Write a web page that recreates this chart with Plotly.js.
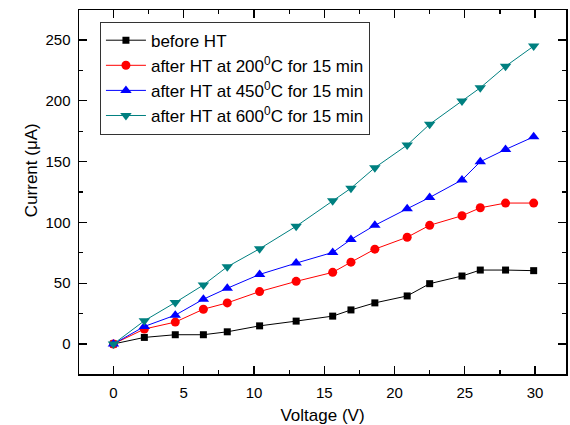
<!DOCTYPE html>
<html>
<head>
<meta charset="utf-8">
<script src="https://cdn.plot.ly/plotly-3.0.1.min.js"></script>
<style>html,body{margin:0;padding:0;background:#fff;}#chart{width:570px;height:425px;}</style>
</head>
<body>
<div id="chart"></div>
<script>
var voltage = [0, 2.2, 4.4, 6.4, 8.1, 10.4, 13.0, 15.6, 16.9, 18.6, 20.9, 22.5, 24.8, 26.1, 27.9, 29.9];
var beforeHT = [0, 5.4, 7.6, 7.6, 10, 14.9, 18.8, 22.9, 28, 33.8, 39.5, 49.6, 55.9, 60.8, 60.8, 60.3];
var ht200 = [0, 12.3, 18, 28.6, 33.8, 43.1, 51.5, 58.9, 67.3, 78, 87.8, 97.6, 105.5, 112, 115.9, 115.9];
var ht450 = [0, 14.4, 23.7, 36.8, 45.8, 57.2, 66.5, 75.3, 85.9, 97.6, 111.2, 120.5, 134.9, 149.9, 160, 170.4];
var ht600 = [0, 19.1, 34.1, 48.5, 63.5, 78.3, 96.8, 117.8, 128.1, 145, 163.6, 180.7, 199.8, 210.7, 228.4, 245];
var seriesNames = ['before HT', 'after HT at 200<sup>0</sup>C for 15 min', 'after HT at 450<sup>0</sup>C for 15 min', 'after HT at 600<sup>0</sup>C for 15 min'];
var xTitle = 'Voltage (V)';
var yTitle = 'Current (\u03bcA)';

function tr(y, name, color, symbol, size) {
  return {
    x: voltage, y: y, name: name, type: 'scatter', mode: 'lines+markers',
    line: {color: color, width: 1},
    marker: {color: color, symbol: symbol, size: size, line: {width: 0}}
  };
}
var data = [
  tr(beforeHT, seriesNames[0], '#000000', 'square', 7),
  tr(ht200, seriesNames[1], '#ff0000', 'circle', 9),
  tr(ht450, seriesNames[2], '#0000ff', 'triangle-up', 10),
  tr(ht600, seriesNames[3], '#008080', 'triangle-down', 10)
];
var font = {family: '"Liberation Sans", Arial, sans-serif', color: '#000'};
var axisCommon = {
  showline: true, linecolor: '#000', linewidth: 1.5, mirror: 'ticks',
  ticks: 'inside', ticklen: 8, tickwidth: 1.2, tickcolor: '#000',
  showgrid: false, zeroline: false, ticklabelstandoff: 4,
  tickfont: {family: font.family, size: 15, color: '#000'}
};
var layout = {
  width: 570, height: 425,
  margin: {l: 79, r: 4, t: 10, b: 51},
  paper_bgcolor: '#fff', plot_bgcolor: '#fff',
  font: font,
  showlegend: true,
  legend: {
    x: 0.043, y: 0.968, xanchor: 'left', yanchor: 'top',
    bgcolor: '#fff', bordercolor: '#333', borderwidth: 1,
    font: {family: font.family, size: 17, color: '#000'},
    tracegroupgap: 0, itemwidth: 40
  },
  xaxis: Object.assign({}, axisCommon, {
    range: [-2.45, 32.2], tick0: 0, dtick: 5,
    minor: {ticks: 'inside', ticklen: 4, tickwidth: 1.2, tickcolor: '#000', dtick: 2.5, showgrid: false},
    title: {text: xTitle, font: {family: font.family, size: 17, color: '#000'}, standoff: 10}
  }),
  yaxis: Object.assign({}, axisCommon, {
    range: [-24.7, 274.7], tick0: 0, dtick: 50,
    minor: {ticks: 'inside', ticklen: 4, tickwidth: 1.2, tickcolor: '#000', dtick: 25, showgrid: false}
  }),
  annotations: [{
    text: yTitle, textangle: -90, xref: 'paper', yref: 'paper',
    x: -0.0986, y: 0.56, xanchor: 'center', yanchor: 'middle', showarrow: false,
    font: {family: font.family, size: 17, color: '#000'}
  }]
};
Plotly.newPlot('chart', data, layout, {displayModeBar: false, staticPlot: true});
</script>
</body>
</html>
